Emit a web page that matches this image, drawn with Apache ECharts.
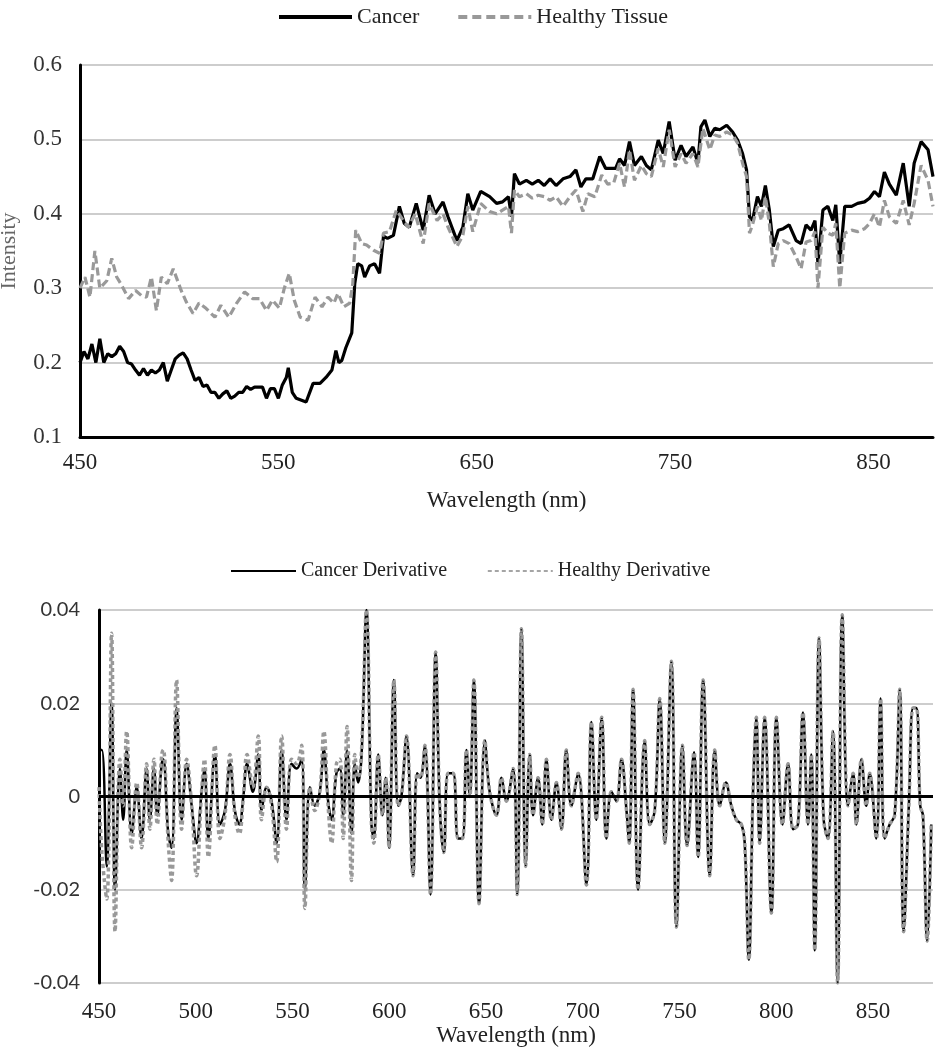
<!DOCTYPE html>
<html>
<head>
<meta charset="utf-8">
<script src="https://cdn.jsdelivr.net/npm/echarts@6/dist/echarts.min.js"></script>
<style>html,body{margin:0;padding:0;background:#fff;}#c{width:935px;height:1050px;}</style>
</head>
<body>
<div id="c"></div>
<script>
// ---- Top chart: intensity spectra ----
const cancerWl = [450,452,454,456,458,460,462,464,466,468,470,472,474,476,478,480,482,484,486,488,490,492,494,496,498,500,502,504,506,508,510,512,514,516,518,520,522,524,526,528,530,532,534,536,538,540,542,544,546,548,550,552,554,555,557,559,561,564,567.5,571,574,577,579,580.5,582,584,587,588.5,590,592,593.5,596,598.5,601,603,605,608,611,613.5,616,619.5,623,626,629,633,635.5,640,643,645.5,648,652,656.5,660,663,666,667.5,669,671.5,675,678,681,684,687,690,693.5,697,700,702.5,705,708.5,712,715,720,722,724.5,727,729.5,733,735.5,738,741.5,744,747,750,753,755.5,759,761.5,763,765,767.5,770,772.5,776,779,781.5,784,786,787.5,789,791.5,793.5,795.5,797.5,799.5,802,804.5,807.5,811,813.5,816,818.5,820.5,822,824.5,827,829.5,831,833,835.5,839,842,845.5,848,850.5,853,855.5,858,861.5,865,868,870.5,874,877.5,880];
const cancerInt = [0.200,0.215,0.205,0.225,0.200,0.232,0.200,0.212,0.208,0.212,0.222,0.215,0.200,0.198,0.190,0.183,0.192,0.183,0.190,0.186,0.190,0.200,0.175,0.190,0.205,0.210,0.213,0.205,0.190,0.176,0.180,0.168,0.170,0.160,0.160,0.152,0.158,0.162,0.152,0.155,0.160,0.160,0.168,0.164,0.167,0.167,0.167,0.152,0.165,0.165,0.152,0.170,0.180,0.193,0.160,0.152,0.150,0.147,0.172,0.172,0.180,0.190,0.216,0.200,0.203,0.220,0.240,0.306,0.333,0.330,0.315,0.330,0.333,0.320,0.370,0.367,0.371,0.410,0.387,0.382,0.414,0.378,0.425,0.400,0.416,0.396,0.364,0.382,0.427,0.405,0.430,0.423,0.414,0.416,0.423,0.396,0.454,0.440,0.445,0.440,0.445,0.438,0.447,0.438,0.447,0.450,0.459,0.436,0.447,0.447,0.477,0.461,0.461,0.474,0.465,0.497,0.465,0.477,0.465,0.459,0.499,0.481,0.524,0.472,0.492,0.477,0.490,0.468,0.517,0.526,0.504,0.515,0.513,0.519,0.510,0.499,0.481,0.459,0.396,0.391,0.423,0.410,0.438,0.405,0.356,0.378,0.380,0.385,0.364,0.360,0.385,0.378,0.391,0.333,0.405,0.410,0.391,0.412,0.333,0.410,0.410,0.414,0.416,0.421,0.430,0.423,0.456,0.440,0.425,0.468,0.410,0.468,0.497,0.486,0.450];

const healthyWl = [450,452.5,455,457.5,460,463.5,466,468.5,471,474.5,478,481,483.5,486,488.5,491,494,497,501,503.5,507,510,513.5,518,521,525,529,533,537,540.5,544,547,550.5,553,555.5,558,561,565,568.5,572,575,578,580,583,586,587.5,589,592,594.5,598,601,603,606,609.5,613,615.5,619,623,626,630,633,635.5,640,643,645.5,648,652,656.5,660,663,666,667.5,669,671.5,675,678,681,684,687,690,693.5,697,700,703.5,706,709.5,713,716,719,722,724.5,727,729.5,733,735.5,738,741.5,744,747,750,753,755.5,759,761.5,764,767.5,770,772.5,776,779,781.5,784,786,787.5,789,791.5,793.5,795.5,797.5,799.5,802,804.5,807.5,811,813.5,816,818.5,820.5,822,824.5,827,829.5,831,833,835.5,839,842,845.5,848,850.5,853,855.5,858,861.5,865,868,870.5,874,877.5,880];
const healthyInt = [0.300,0.315,0.288,0.350,0.300,0.310,0.340,0.315,0.304,0.286,0.297,0.290,0.288,0.315,0.270,0.315,0.306,0.326,0.297,0.282,0.266,0.280,0.273,0.261,0.277,0.261,0.280,0.295,0.286,0.286,0.270,0.284,0.273,0.300,0.320,0.284,0.261,0.257,0.288,0.275,0.288,0.280,0.293,0.275,0.280,0.306,0.378,0.360,0.358,0.351,0.347,0.374,0.376,0.405,0.391,0.382,0.400,0.360,0.414,0.391,0.400,0.382,0.356,0.371,0.410,0.376,0.414,0.403,0.400,0.405,0.410,0.374,0.432,0.423,0.427,0.421,0.425,0.423,0.418,0.423,0.410,0.423,0.432,0.403,0.427,0.423,0.452,0.440,0.441,0.468,0.436,0.486,0.445,0.465,0.454,0.450,0.488,0.463,0.513,0.463,0.481,0.468,0.481,0.463,0.515,0.486,0.506,0.504,0.510,0.506,0.495,0.468,0.450,0.374,0.385,0.410,0.391,0.423,0.387,0.329,0.360,0.364,0.360,0.342,0.326,0.362,0.364,0.376,0.300,0.382,0.374,0.371,0.387,0.300,0.374,0.378,0.376,0.380,0.387,0.400,0.382,0.418,0.396,0.387,0.418,0.385,0.414,0.465,0.445,0.410];

// ---- Bottom chart: derivatives ----
const derivWl = [450,451.5,454,456.5,458.3,460.8,462.5,464.3,466.9,469.5,472,474.6,476.3,478.4,480.1,482.4,483.2,485.8,487.5,490.1,492.7,495.3,497.9,500.4,503,504.5,506.5,509.9,512.5,515.1,517.7,520.2,522.5,524.6,526.5,529.5,532.3,534,536.6,539.2,541.8,544.4,546.9,549.5,552.1,554.7,556.4,559,561.5,564.1,566.2,568.4,570.2,572.7,574.5,576.2,578.2,580.5,582.2,583.9,585.7,588.2,590.8,592,594.3,596.5,598.2,599.9,602.4,604.6,606.3,608.9,612.3,614.4,616.1,618.4,621.3,624,626.1,628.2,630.4,633,635.6,637.8,639.9,641.6,643.7,646.4,649.4,651.9,655.4,658,660.5,664,666.1,668.3,670.5,672.6,674.3,676.9,679.1,681.2,683.8,686.4,689,691.5,694.1,697.6,701.9,704.5,707,709.8,712.2,714.8,717.4,720,722.6,724,726,728.6,732,734.6,737.2,739.8,742.4,745.8,748.4,751.5,753.9,757.5,759.6,762.2,765.6,768.2,770.8,773.9,776.8,779.4,782,783.7,785.8,788,789.7,791.4,794,797.5,800.1,803.2,806.1,808.7,811.2,813.8,816.4,818.1,819.9,822.1,824.5,826.7,829.3,831.7,834.1,837.1,839.7,841.4,844,846.5,848.3,851.7,853.9,856,858.6,861.2,863.8,865.8,868.6,870.7,872.4,874.4,875.8,878,880.1];
const healthyDeriv = [0.002,-0.012,-0.022,0.035,-0.029,0.008,-0.002,0.014,-0.011,0.003,-0.011,0.007,-0.007,0.008,-0.006,0.009,0.010,-0.010,-0.018,0.025,-0.007,0.008,-0.002,-0.017,0.001,0.008,-0.013,0.011,-0.009,-0.004,0.009,-0.004,-0.008,0.000,0.009,0.002,0.013,-0.005,0.002,-0.002,-0.014,0.013,-0.007,0.008,0.007,0.011,-0.024,0.002,-0.003,0.001,0.014,-0.002,-0.010,0.007,0.008,-0.009,0.015,-0.018,0.009,0.004,0.010,0.040,-0.006,-0.010,0.009,-0.004,0.004,-0.011,0.025,-0.002,0.000,0.013,-0.017,0.005,0.004,0.011,-0.021,0.031,-0.002,-0.012,0.005,0.005,-0.009,-0.009,0.010,0.000,0.025,-0.023,0.012,0.001,-0.004,0.004,-0.001,0.006,-0.021,0.036,-0.015,0.009,-0.004,0.004,-0.006,0.008,-0.005,0.003,-0.007,0.010,-0.002,0.005,-0.019,0.016,-0.005,0.017,-0.009,0.001,-0.001,0.008,-0.003,-0.010,0.023,-0.020,0.012,-0.006,-0.003,0.021,-0.010,0.029,-0.028,0.011,-0.0105,0.0095,-0.013,0.025,-0.017,0.010,-0.002,0.003,-0.002,-0.005,-0.006,-0.010,-0.035,0.001,0.017,-0.010,0.017,-0.025,0.017,-0.006,0.007,-0.007,-0.006,0.018,-0.006,0.009,-0.033,0.034,-0.005,-0.009,0.014,-0.040,0.039,-0.002,0.005,-0.006,0.008,-0.002,0.005,-0.009,0.021,-0.009,-0.006,-0.004,0.023,-0.029,-0.001,0.019,0.019,-0.002,-0.004,-0.031,-0.006];
const cancerDeriv = [0.010,0.010,-0.015,0.020,-0.020,0.006,-0.005,0.010,-0.008,0.002,-0.009,0.006,-0.005,0.006,-0.004,0.007,0.008,-0.008,-0.011,0.019,-0.005,0.007,-0.002,-0.010,0.001,0.006,-0.009,0.009,-0.006,-0.003,0.007,-0.003,-0.006,0.000,0.007,0.001,0.009,-0.003,0.002,-0.001,-0.010,0.010,-0.005,0.007,0.006,0.008,-0.020,0.002,-0.002,0.001,0.010,-0.001,-0.005,0.005,0.006,-0.004,0.010,-0.008,0.007,0.003,0.009,0.040,-0.006,-0.009,0.009,-0.004,0.004,-0.011,0.025,-0.002,0.000,0.013,-0.017,0.005,0.004,0.011,-0.021,0.031,-0.002,-0.012,0.005,0.005,-0.009,-0.009,0.010,0.000,0.025,-0.023,0.012,0.001,-0.004,0.004,-0.001,0.006,-0.021,0.036,-0.015,0.009,-0.004,0.004,-0.006,0.008,-0.005,0.003,-0.007,0.010,-0.002,0.005,-0.019,0.016,-0.005,0.017,-0.009,0.001,-0.001,0.008,-0.003,-0.010,0.023,-0.020,0.012,-0.006,-0.003,0.021,-0.010,0.029,-0.028,0.011,-0.0105,0.0095,-0.013,0.025,-0.017,0.010,-0.002,0.003,-0.002,-0.005,-0.006,-0.010,-0.035,0.001,0.017,-0.010,0.017,-0.025,0.017,-0.006,0.007,-0.007,-0.006,0.018,-0.006,0.009,-0.033,0.034,-0.005,-0.009,0.014,-0.040,0.039,-0.002,0.005,-0.006,0.008,-0.002,0.005,-0.009,0.021,-0.009,-0.006,-0.004,0.023,-0.029,-0.001,0.019,0.019,-0.002,-0.004,-0.031,-0.006];

const pair = (xs, ys) => xs.map((x, i) => [x, ys[i]]);
const serif = 'Liberation Serif';

const chart = echarts.init(document.getElementById('c'), null, {renderer: 'canvas'});
chart.setOption({
  animation: false,
  backgroundColor: '#ffffff',
  legend: [
    {
      left: 272, top: 1, itemWidth: 73, itemHeight: 14, itemGap: 37,
      itemStyle: {opacity: 0},
      textStyle: {fontFamily: serif, fontSize: 22, color: '#222'},
      data: [
        {name: 'Cancer', lineStyle: {width: 4, color: '#000'}},
        {name: 'Healthy Tissue', lineStyle: {width: 4, color: '#999', type: [9, 5]}}
      ]
    },
    {
      left: 225, top: 556, itemWidth: 65, itemHeight: 14, itemGap: 40,
      itemStyle: {opacity: 0},
      textStyle: {fontFamily: serif, fontSize: 20, color: '#222'},
      data: [
        {name: 'Cancer Derivative', lineStyle: {width: 2, color: '#000'}},
        {name: 'Healthy Derivative', lineStyle: {width: 1.5, color: '#888', type: [4, 3]}}
      ]
    }
  ],
  grid: [
    {left: 80, right: 2, top: 65, height: 372, outerBoundsMode: 'none', containLabel: false},
    {left: 99, right: 2, top: 610, height: 373, outerBoundsMode: 'none', containLabel: false}
  ],
  xAxis: [
    {
      gridIndex: 0, type: 'value', min: 450, max: 880, interval: 100,
      name: 'Wavelength (nm)', nameLocation: 'middle', nameGap: 52,
      nameTextStyle: {fontFamily: serif, fontSize: 23, color: '#222'},
      axisLine: {show: true, onZero: false, lineStyle: {color: '#000', width: 3}},
      axisTick: {show: false},
      axisLabel: {fontFamily: serif, fontSize: 23, color: '#222', margin: 14, showMaxLabel: false},
      splitLine: {show: false}
    },
    {
      gridIndex: 1, type: 'value', min: 450, max: 881, interval: 50,
      name: 'Wavelength (nm)', nameLocation: 'middle', nameGap: 41,
      nameTextStyle: {fontFamily: serif, fontSize: 23, color: '#222'},
      axisLine: {show: false, onZero: false},
      axisTick: {show: false},
      axisLabel: {fontFamily: serif, fontSize: 23, color: '#222', margin: 17, showMaxLabel: false},
      splitLine: {show: false}
    }
  ],
  yAxis: [
    {
      gridIndex: 0, type: 'value', min: 0.1, max: 0.6, interval: 0.1,
      name: 'Intensity', nameLocation: 'middle', nameGap: 60, nameRotate: 90,
      nameTextStyle: {fontFamily: serif, fontSize: 22, color: '#666'},
      axisLine: {show: true, lineStyle: {color: '#000', width: 3}},
      axisTick: {show: false},
      axisLabel: {fontFamily: serif, fontSize: 23, color: '#333', margin: 18,
        formatter: v => (Math.round(v * 10) / 10).toFixed(1)},
      splitLine: {show: true, lineStyle: {color: '#bdbdbd', width: 1.5}}
    },
    {
      gridIndex: 1, type: 'value', min: -0.04, max: 0.04, interval: 0.02,
      axisLine: {show: true, onZero: false, lineStyle: {color: '#000', width: 3}},
      axisTick: {show: false},
      axisLabel: {fontFamily: 'Lato', fontSize: 20, color: '#333', margin: 19,
        formatter: v => Math.abs(v) < 1e-9 ? '0' : v.toFixed(2)},
      splitLine: {show: true, lineStyle: {color: '#bdbdbd', width: 1.5}}
    }
  ],
  series: [
    {
      name: 'Cancer', type: 'line', xAxisIndex: 0, yAxisIndex: 0,
      data: pair(cancerWl, cancerInt), symbol: 'none', smooth: false,
      lineStyle: {color: '#000', width: 3.2}, itemStyle: {color: '#000'}, z: 3
    },
    {
      name: 'Healthy Tissue', type: 'line', xAxisIndex: 0, yAxisIndex: 0,
      data: pair(healthyWl, healthyInt), symbol: 'none', smooth: false,
      lineStyle: {color: '#999', width: 3.2, type: [8, 4]}, itemStyle: {color: '#999'}, z: 4
    },
    {
      name: 'Cancer Derivative', type: 'line', xAxisIndex: 1, yAxisIndex: 1,
      data: pair(derivWl, cancerDeriv), symbol: 'none', smooth: 0.4,
      lineStyle: {color: '#000', width: 2.5}, itemStyle: {color: '#000'}, z: 3,
      markLine: {
        silent: true, symbol: 'none', label: {show: false},
        lineStyle: {color: '#000', width: 3, type: 'solid'},
        data: [{yAxis: 0}]
      }
    },
    {
      name: 'Healthy Derivative', type: 'line', xAxisIndex: 1, yAxisIndex: 1,
      data: pair(derivWl, healthyDeriv), symbol: 'none', smooth: 0.4,
      lineStyle: {color: '#999', width: 3.5, type: [4, 3]}, itemStyle: {color: '#999'}, z: 4
    }
  ]
});
</script>
</body>
</html>
